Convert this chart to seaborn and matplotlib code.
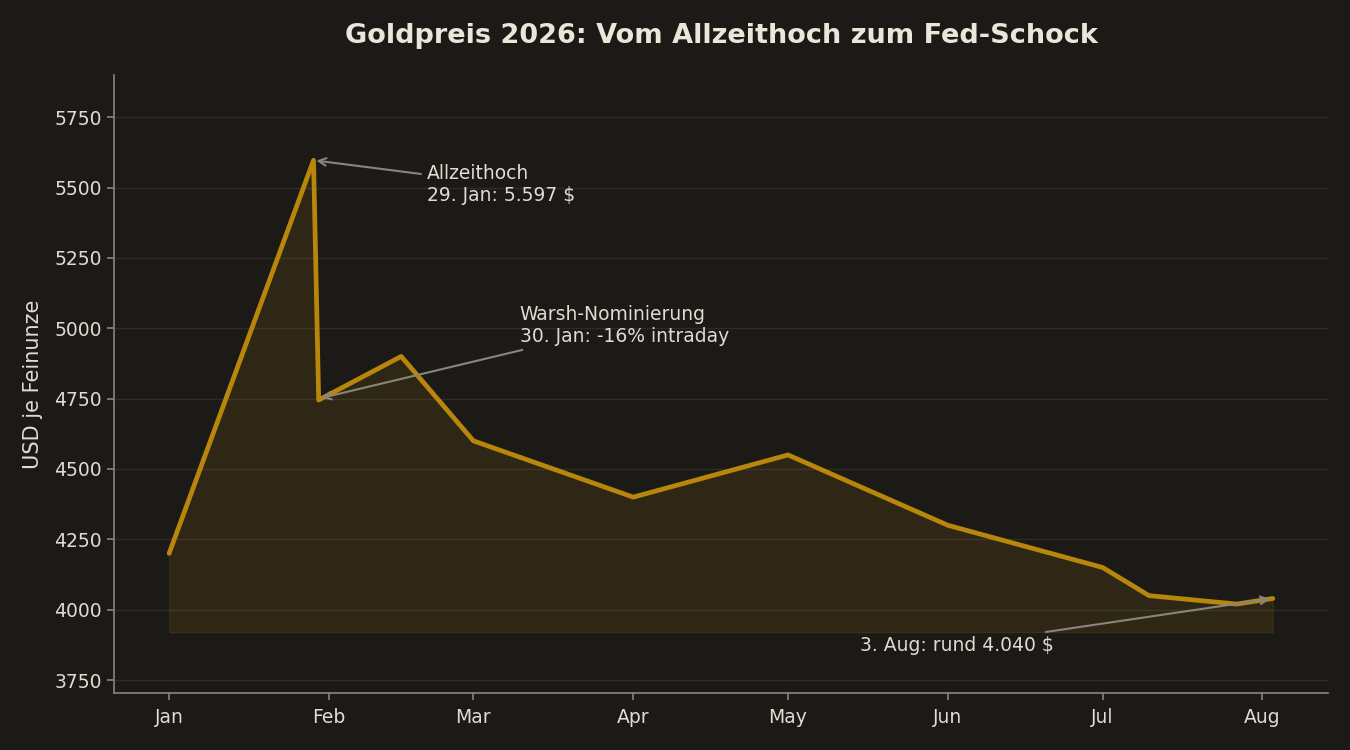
import pandas as pd
import numpy as np
import seaborn as sns
import matplotlib
matplotlib.use("Agg")
import matplotlib.pyplot as plt
import matplotlib.dates as mdates

# Goldpreis 2026, USD je Feinunze
dates = ["2026-01-01", "2026-01-29", "2026-01-30", "2026-02-15", "2026-03-01",
         "2026-04-01", "2026-05-01", "2026-06-01", "2026-07-01", "2026-07-10",
         "2026-07-27", "2026-08-03"]
prices = [4200, 5597, 4745, 4900, 4600, 4400, 4550, 4300, 4150, 4050, 4020, 4040]
fill_base = 3920

bg = "#1b1a17"
gold = "#b8860b"
txt = "#e0dcd2"
axis_col = "#8a857a"
grid_col = "#2e2c27"

df = pd.DataFrame({"Datum": pd.to_datetime(dates), "Preis": prices})

sns.set_theme(style="dark")
plt.rcParams['font.family'] = ['DejaVu Sans']

fig = plt.figure(figsize=(13.5, 7.5), dpi=100, facecolor=bg)
ax = fig.add_axes([0.0844, 0.076, 0.8993, 0.824])
ax.set_facecolor(bg)

sns.lineplot(data=df, x="Datum", y="Preis", color=gold, linewidth=3.4, ax=ax)
ax.fill_between(df["Datum"], df["Preis"], fill_base, color=gold, alpha=0.13)

ax.set_ylim(3704, 5900)
ax.set_yticks([3750, 4000, 4250, 4500, 4750, 5000, 5250, 5500, 5750])
ax.xaxis.set_major_locator(mdates.MonthLocator())
ax.xaxis.set_major_formatter(mdates.DateFormatter("%b"))

ax.set_xlabel("")
ax.set_ylabel("USD je Feinunze", color=txt, fontsize=15, labelpad=8)
ax.set_title("Goldpreis 2026: Vom Allzeithoch zum Fed-Schock", color="#ece6da",
             fontsize=19.5, fontweight="bold", pad=23)

ax.tick_params(colors=txt, labelsize=13.5, length=5, width=1.2, color=axis_col,
               bottom=True, left=True)
ax.tick_params(axis="x", pad=5.5)
for s in ["top", "right"]:
    ax.spines[s].set_visible(False)
for s in ["left", "bottom"]:
    ax.spines[s].set_color(axis_col)
    ax.spines[s].set_linewidth(1.2)
ax.yaxis.grid(True, color=grid_col, linewidth=1)
ax.xaxis.grid(False)

arrow = dict(arrowstyle="->", color=axis_col, lw=1.5)
ax.annotate("Allzeithoch\n29. Jan: 5.597 $", xy=(df["Datum"][1], prices[1]),
            xytext=(pd.Timestamp("2026-02-20"), 5512), textcoords="data",
            color=txt, fontsize=13.5, va="center", ha="left", arrowprops=arrow)
ax.annotate("Warsh-Nominierung\n30. Jan: -16% intraday", xy=(df["Datum"][2], 4750),
            xytext=(pd.Timestamp("2026-03-10"), 5010), textcoords="data",
            color=txt, fontsize=13.5, va="center", ha="left", arrowprops=arrow)
ax.annotate("3. Aug: rund 4.040 $", xy=(df["Datum"][11], prices[11]),
            xytext=(pd.Timestamp("2026-06-21 12:00"), 3874), textcoords="data",
            color=txt, fontsize=13.5, va="center", ha="right", arrowprops=arrow)

fig.savefig("out.png", dpi=100, facecolor=bg)
